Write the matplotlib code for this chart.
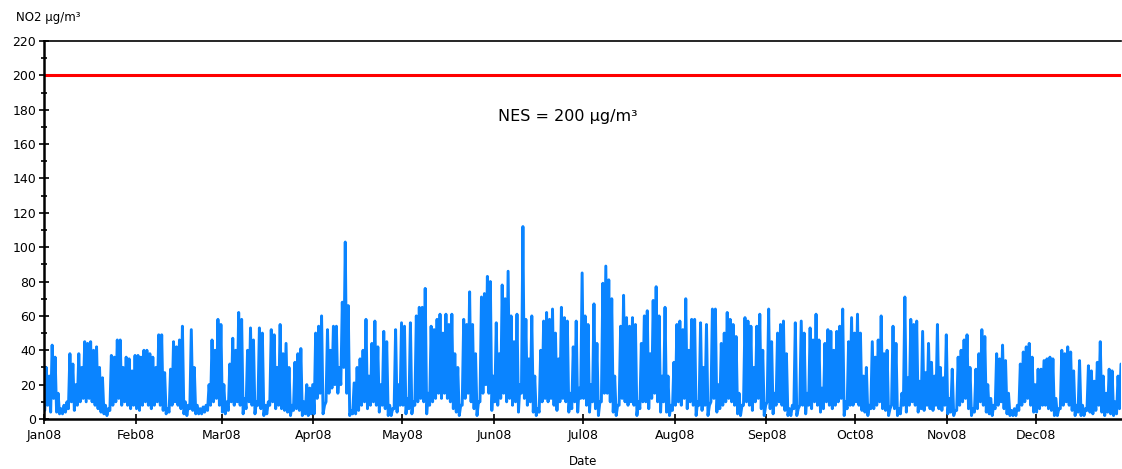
import numpy as np
import pandas as pd
import matplotlib
matplotlib.use("Agg")
import matplotlib.pyplot as plt

# Daily maximum / minimum NO2 (µg/m³), per month
jan_max = [30,25,43,36,15,6,8,10,38,32,20,38,30,45,44,45,40,42,30,24,8,6,37,36,46,46,30,36,35,28,37]
jan_min = [5,8,4,12,4,3,3,4,6,10,5,8,10,12,10,12,10,8,6,4,3,2,5,8,10,12,8,10,8,6,8]
feb_max = [37,36,40,40,38,36,30,49,49,27,6,29,45,42,46,54,10,8,52,30,8,6,7,8,20,46,40,58,55]
feb_min = [6,5,8,10,8,6,8,10,8,5,3,4,8,10,8,6,3,2,6,5,3,3,3,4,5,8,10,12,8]
mar_max = [20,10,32,47,40,62,58,12,40,53,46,10,53,50,8,10,52,49,30,55,38,44,30,8,33,38,41,10,20,18,20]
mar_min = [4,3,5,10,8,10,8,3,6,10,8,3,8,6,2,3,8,10,6,8,6,5,4,2,5,6,5,2,3,2,3]
apr_max = [50,54,60,8,52,40,54,54,30,68,103,66,5,21,30,35,40,58,25,44,57,42,20,51,45,8,6,52,20,56]
apr_min = [3,12,15,3,10,15,18,20,15,20,30,15,2,3,3,5,8,10,6,8,10,8,4,8,6,2,2,6,4,8]
may_max = [54,12,56,10,60,65,65,76,15,54,52,58,61,50,61,55,61,38,30,8,58,55,74,55,38,10,71,73,83,80,25]
may_min = [8,3,6,3,8,10,12,10,3,8,10,12,15,12,15,12,10,6,4,2,8,12,15,10,6,2,10,15,20,15,5]
jun_max = [56,38,78,70,86,60,45,61,20,112,58,35,60,25,6,40,57,62,58,64,50,35,65,59,57,15,42,57,18,85]
jun_min = [10,8,12,15,10,12,8,10,4,15,12,8,10,4,2,4,10,12,10,12,8,5,10,12,10,4,6,10,4,12]
jul_max = [60,55,20,67,44,10,79,89,81,70,25,8,54,72,59,54,59,55,10,44,60,63,38,69,77,60,25,65,25,8,33]
jul_min = [12,8,4,10,6,2,10,15,15,10,4,2,8,12,10,8,10,8,2,6,10,10,6,12,15,10,4,10,4,2,5]
aug_max = [55,57,52,70,40,58,58,10,56,30,55,8,64,64,20,44,50,62,58,55,48,15,8,59,57,54,30,54,61,40,8]
aug_min = [8,10,8,12,6,10,8,2,8,5,8,2,10,12,4,6,8,10,12,10,8,3,2,8,10,8,5,10,12,6,2]
sep_max = [64,45,15,50,55,57,38,6,8,56,6,57,50,15,53,46,61,46,18,44,52,51,40,51,54,64,10,45,59,50]
sep_min = [10,6,3,8,10,8,5,2,2,6,2,8,8,3,8,6,10,8,4,6,10,8,6,8,10,12,2,6,8,8]
oct_max = [61,50,25,30,8,45,36,46,60,38,40,6,54,44,6,15,71,24,58,55,57,22,51,27,44,33,25,55,30,24,49]
oct_min = [10,8,5,4,2,6,6,8,10,6,5,2,8,6,2,3,8,4,8,10,8,4,6,5,8,6,5,8,6,5,8]
nov_max = [12,29,5,36,40,46,49,30,6,29,38,52,48,20,12,8,38,35,43,34,15,5,6,8,32,39,42,44,36,20]
nov_min = [3,4,2,5,8,10,12,6,2,4,6,10,8,4,3,2,6,8,10,6,3,2,2,2,5,8,10,12,8,4]
dec_max = [29,29,34,35,36,35,12,6,40,38,42,39,28,8,34,8,6,31,28,22,33,45,25,15,29,28,10,25,32]
dec_min = [4,6,8,8,6,5,2,2,6,8,10,8,5,2,4,2,2,5,4,3,5,8,4,2,4,3,2,3,6]

month_labels = ["Jan08","Feb08","Mar08","Apr08","May08","Jun08",
                "Jul08","Aug08","Sep08","Oct08","Nov08","Dec08"]
limit_value = 200
limit_text = "NES = 200 µg/m³"

daily_max = np.array(jan_max+feb_max+mar_max+apr_max+may_max+jun_max+
                     jul_max+aug_max+sep_max+oct_max+nov_max+dec_max, float)
daily_min = np.array(jan_min+feb_min+mar_min+apr_min+may_min+jun_min+
                     jul_min+aug_min+sep_min+oct_min+nov_min+dec_min, float)

start = pd.Timestamp("2008-01-01")
days = pd.date_range(start, periods=len(daily_max), freq="D")
t_min = days + pd.Timedelta(hours=6)
t_max = days + pd.Timedelta(hours=18)
times = np.empty(2*len(days), dtype="datetime64[ns]")
times[0::2] = t_min.values
times[1::2] = t_max.values
vals = np.empty(2*len(days))
vals[0::2] = daily_min
vals[1::2] = daily_max

W, H = 1122, 469
fig = plt.figure(figsize=(W/100, H/100), dpi=100)
ax = fig.add_axes([44/W, 1-419/H, (1121-44)/W, (419-41)/H])

ax.plot(times, vals, color="#0A84FF", lw=2.1, solid_joinstyle="round",
        solid_capstyle="round")
ax.axhline(limit_value, color="#FF0000", lw=2.2)
ax.text(pd.Timestamp("2008-06-26"), 176, limit_text, fontsize=11.5,
        ha="center", va="center")

ax.set_ylim(0, 220)
ax.set_xlim(start, times[-1])
ax.set_yticks(np.arange(0, 221, 20))
ax.set_yticks(np.arange(10, 220, 20), minor=True)
month_starts = pd.date_range("2008-01-01", periods=12, freq="MS")
ax.set_xticks(month_starts)
ax.set_xticklabels(month_labels)

for s in ["left", "bottom"]:
    ax.spines[s].set_linewidth(1.8)
ax.spines["top"].set_linewidth(1.2)
ax.spines["right"].set_visible(False)
ax.tick_params(axis="both", which="major", direction="inout", length=7, width=1.2,
               labelsize=9, pad=2)
ax.tick_params(axis="y", which="minor", direction="inout", length=5, width=1.2)
ax.tick_params(axis="x", pad=4)

fig.text(16/W, 1-17/H, "NO2 µg/m³", fontsize=8.5, ha="left", va="center")
fig.text(583/W, 1-461/H, "Date", fontsize=8.5, ha="center", va="center")

fig.savefig("out.png", dpi=100)
